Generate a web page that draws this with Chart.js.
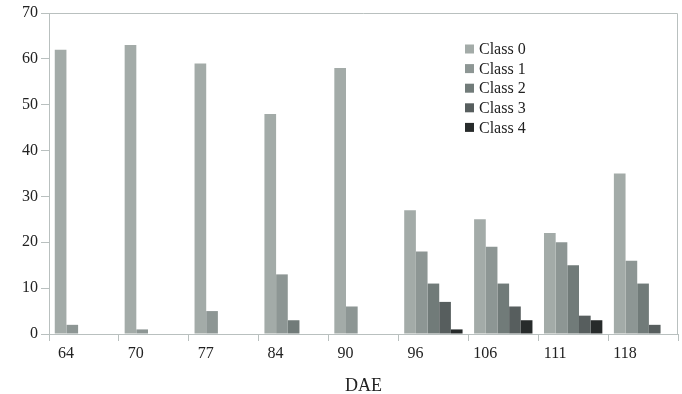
<!DOCTYPE html>
<html>
<head>
<meta charset="utf-8">
<script src="https://cdn.jsdelivr.net/npm/chart.js@4"></script>
<style>
  html, body { margin: 0; padding: 0; background: #fff; }
  #wrap { width: 682px; height: 394px; }
</style>
</head>
<body>
<div id="wrap"><canvas id="chart"></canvas></div>
<script>
// data
var days = ['64', '70', '77', '84', '90', '96', '106', '111', '118'];
var class0 = [62, 63, 59, 48, 58, 27, 25, 22, 35];
var class1 = [2, 1, 5, 13, 6, 18, 19, 20, 16];
var class2 = [0, 0, 0, 3, 0, 11, 11, 15, 11];
var class3 = [0, 0, 0, 0, 0, 7, 6, 4, 2];
var class4 = [0, 0, 0, 0, 0, 1, 3, 3, 0];
var classNames = ['Class 0', 'Class 1', 'Class 2', 'Class 3', 'Class 4'];
var classColors = ['#a3aba8', '#8d9694', '#717b79', '#575e5e', '#272b2b'];

var axisColor = '#b9c0bf';
var serif = "'Liberation Serif', 'DejaVu Serif', serif";

// box top + right edge of the plot
var frame = {
  id: 'frame',
  afterDatasetsDraw: function(chart) {
    var a = chart.chartArea, ctx = chart.ctx;
    ctx.save();
    ctx.strokeStyle = axisColor;
    ctx.lineWidth = 1;
    ctx.beginPath();
    ctx.moveTo(a.left, a.top + 0.5);
    ctx.lineTo(a.right - 0.5, a.top + 0.5);
    ctx.lineTo(a.right - 0.5, a.bottom);
    ctx.stroke();
    ctx.restore();
  }
};

// legend sits inside the plot, top right
var innerLegend = {
  id: 'innerLegend',
  afterDraw: function(chart) {
    var ctx = chart.ctx;
    ctx.save();
    ctx.font = '16px ' + serif;
    ctx.textBaseline = 'middle';
    chart.data.datasets.forEach(function(ds, i) {
      var y = 49 + i * 19.6;
      ctx.fillStyle = ds.backgroundColor;
      ctx.fillRect(465, y - 4.5, 9, 9);
      ctx.fillStyle = '#222';
      ctx.fillText(ds.label, 479, y + 1);
    });
    ctx.restore();
  }
};

var sets = [class0, class1, class2, class3, class4].map(function(vals, i) {
  return {
    label: classNames[i],
    data: vals,
    backgroundColor: classColors[i],
    borderWidth: 0,
    categoryPercentage: 0.835,
    barPercentage: 1
  };
});

new Chart(document.getElementById('chart'), {
  type: 'bar',
  data: { labels: days, datasets: sets },
  options: {
    responsive: true,
    maintainAspectRatio: false,
    animation: false,
    layout: { padding: { left: 0, right: 4, top: 13, bottom: 0 } },
    plugins: { legend: { display: false }, tooltip: { enabled: false } },
    scales: {
      x: {
        grid: { offset: true, drawOnChartArea: false, tickLength: 7, color: axisColor },
        border: { color: axisColor },
        ticks: { font: { family: serif, size: 16 }, color: '#222', labelOffset: -18, padding: 3 },
        title: { display: true, text: 'DAE', font: { family: serif, size: 18 }, color: '#222', padding: { top: 12, bottom: -3 } },
        afterFit: function(s) { s.height = 60; }
      },
      y: {
        min: 0, max: 70,
        ticks: { stepSize: 10, font: { family: serif, size: 16 }, color: '#222', padding: 3 },
        grid: { drawOnChartArea: false, tickLength: 8, color: axisColor },
        border: { color: axisColor },
        afterFit: function(s) { s.width = 49; }
      }
    }
  },
  plugins: [frame, innerLegend]
});
</script>
</body>
</html>
